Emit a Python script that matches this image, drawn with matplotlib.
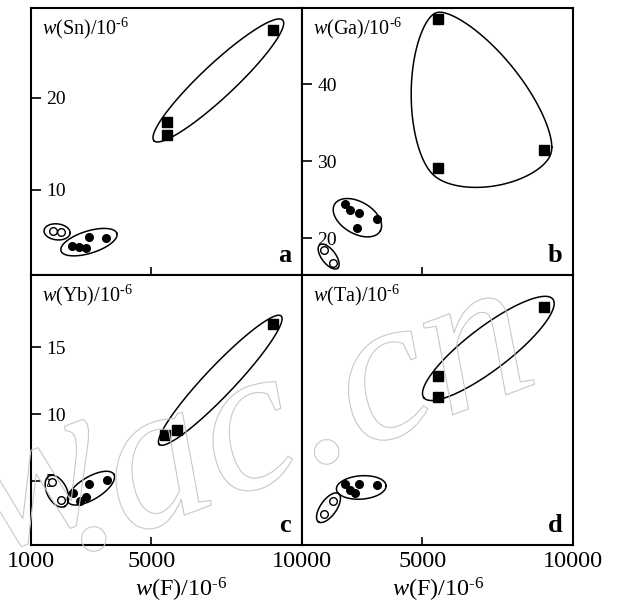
import numpy as np
import matplotlib
matplotlib.use("Agg")
import matplotlib.pyplot as plt
import matplotlib.patheffects as pe

plt.rcParams["font.family"] = "Liberation Serif"
plt.rcParams["mathtext.fontset"] = "custom"
plt.rcParams["mathtext.rm"] = "Liberation Serif"
plt.rcParams["mathtext.it"] = "Liberation Serif:italic"
plt.rcParams["axes.linewidth"] = 1.5

# ---- data (w(F) in 1e-6, element contents in 1e-6) ----
# group 1: squares, group 2: filled circles, group 3: open circles
sn_sq_F = [9030, 5530, 5530]
sn_sq = [27.4, 17.4, 16.0]
sn_fc_F = [2360, 2590, 2830, 2910, 3480]
sn_fc = [3.9, 3.75, 3.6, 4.85, 4.75]
sn_oc_F = [1730, 2000]
sn_oc = [5.45, 5.35]

ga_sq_F = [5530, 5530, 9040]
ga_sq = [48.5, 29.1, 31.4]
ga_fc_F = [2430, 2590, 2900, 2840, 3490]
ga_fc = [24.4, 23.6, 23.2, 21.3, 22.5]
ga_oc_F = [1730, 2040]
ga_oc = [18.4, 16.8]

yb_sq_F = [9050, 5450, 5840]
yb_sq = [16.75, 8.45, 8.8]
yb_fc_F = [2395, 2630, 2830, 2940, 3520]
yb_fc = [4.1, 3.5, 3.8, 4.75, 5.05]
yb_oc_F = [1710, 2010]
yb_oc = [4.9, 3.55]

ta_sq_F = [9040, 5530, 5530]
ta_sq = [44.0, 31.3, 27.4]
ta_fc_F = [2430, 2590, 2760, 2900, 3490]
ta_fc = [11.3, 10.2, 9.7, 11.25, 11.1]
ta_oc_F = [2040, 1720]
ta_oc = [8.15, 5.65]


def ring(ax, xs, ys, pa, pb):
    # ellipse around a group, built in pixel space
    P = ax.transData.transform(np.column_stack([xs, ys]))
    c = P.mean(0)
    _, _, vt = np.linalg.svd(P - c)
    d, e = vt[0], np.array([-vt[0][1], vt[0][0]])
    a = (P - c) @ d
    b = (P - c) @ e
    cen = c + d * (a.max() + a.min()) / 2 + e * (b.max() + b.min()) / 2
    A = (a.max() - a.min()) / 2 + pa
    B = (b.max() - b.min()) / 2 + pb
    t = np.linspace(0, 2 * np.pi, 300)
    pts = cen + np.outer(A * np.cos(t), d) + np.outer(B * np.sin(t), e)
    q = ax.transData.inverted().transform(pts)
    ax.plot(q[:, 0], q[:, 1], color="k", lw=1.1, zorder=2)


def blob(ax, xs, ys, r, T):
    # soft (rounded, bulging) hull around a group
    P = ax.transData.transform(np.column_stack([xs, ys]))
    th = np.linspace(0, 2 * np.pi, 500)
    U = np.column_stack([np.cos(th), np.sin(th)])
    Up = np.column_stack([-np.sin(th), np.cos(th)])
    proj = P @ U.T
    m = proj.max(0)
    w = np.exp((proj - m) / T)
    h = m + T * np.log(w.sum(0)) + r
    s = w / w.sum(0)
    dh = (s * (P @ Up.T)).sum(0)
    pts = h[:, None] * U + dh[:, None] * Up
    q = ax.transData.inverted().transform(pts)
    ax.plot(q[:, 0], q[:, 1], color="k", lw=1.1, zorder=2)


def points(ax, sqF, sq, fcF, fc, ocF, oc):
    ax.plot(sqF, sq, "s", color="k", ms=6.5, zorder=3)
    ax.plot(fcF, fc, "o", color="k", ms=5.5, zorder=3)
    ax.plot(ocF, oc, "o", mfc="white", mec="k", mew=1.0, ms=5.5, zorder=3)


fig = plt.figure(figsize=(6.19, 6.10), dpi=100)
W, H = 619, 610
x0, xm, x1 = 31, 302, 573
y0, ym, y1 = 8, 275, 545

ax_a = fig.add_axes([x0 / W, 1 - ym / H, (xm - x0) / W, (ym - y0) / H])
ax_b = fig.add_axes([xm / W, 1 - ym / H, (x1 - xm) / W, (ym - y0) / H])
ax_c = fig.add_axes([x0 / W, 1 - y1 / H, (xm - x0) / W, (y1 - ym) / H])
ax_d = fig.add_axes([xm / W, 1 - y1 / H, (x1 - xm) / W, (y1 - ym) / H])

panels = [
    (ax_a, "Sn", "a", (0.7, 29.8), [10, 20]),
    (ax_b, "Ga", "b", (15.2, 49.9), [20, 30, 40]),
    (ax_c, "Yb", "c", (0.2, 20.4), [5, 10, 15]),
    (ax_d, "Ta", "d", (0, 50), []),
]

unit = r"/10$^{\text{-}6}$"

for ax, el, letter, ylim, yt in panels:
    ax.set_xlim(1000, 10000)
    ax.set_ylim(*ylim)
    ax.set_yticks(yt)
    ax.tick_params(axis="y", direction="in", length=7, width=1.2, pad=-11,
                   labelsize=14)
    for lab in ax.get_yticklabels():
        lab.set_horizontalalignment("left")
    ax.tick_params(axis="x", direction="in", length=6, width=1.2,
                   labelsize=17.5, pad=4)
    ax.text(0.04, 0.925, r"$w$(" + el + ")" + unit, transform=ax.transAxes,
            fontsize=14.5, va="center", ha="left")
    ax.text(0.96, 0.03, letter, transform=ax.transAxes, fontsize=19,
            fontweight="bold", ha="right", va="bottom")

ax_a.set_xticks([5000])
ax_a.set_xticklabels([])
ax_b.set_xticks([5000])
ax_b.set_xticklabels([])
ax_c.set_xticks([1000, 5000, 10000])
ax_c.set_xticklabels(["1000", "5000", "10000"])
ax_d.set_xticks([5000, 10000])
ax_d.set_xticklabels(["5000", "10000"])

points(ax_a, sn_sq_F, sn_sq, sn_fc_F, sn_fc, sn_oc_F, sn_oc)
points(ax_b, ga_sq_F, ga_sq, ga_fc_F, ga_fc, ga_oc_F, ga_oc)
points(ax_c, yb_sq_F, yb_sq, yb_fc_F, yb_fc, yb_oc_F, yb_oc)
points(ax_d, ta_sq_F, ta_sq, ta_fc_F, ta_fc, ta_oc_F, ta_oc)

ring(ax_a, sn_sq_F, sn_sq, 14, 12)
ring(ax_a, sn_fc_F, sn_fc, 12, 6)
ring(ax_a, sn_oc_F, sn_oc, 9, 8)

blob(ax_b, ga_sq_F, ga_sq, 6, 30)
ring(ax_b, ga_fc_F, ga_fc, 9, 7)
ring(ax_b, ga_oc_F, ga_oc, 7, 7)

ring(ax_c, yb_sq_F, yb_sq, 11, 12)
ring(ax_c, yb_fc_F, yb_fc, 9, 6)
ring(ax_c, yb_oc_F, yb_oc, 7, 10)

ring(ax_d, ta_sq_F, ta_sq, 12, 13)
ring(ax_d, ta_fc_F, ta_fc, 9, 7)
ring(ax_d, ta_oc_F, ta_oc, 9, 8)

fig.text(181 / W, 1 - 590 / H, r"$w$(F)" + unit, fontsize=17.5,
         ha="center", va="center")
fig.text(438 / W, 1 - 590 / H, r"$w$(F)" + unit, fontsize=17.5,
         ha="center", va="center")

# faint watermark
wm = dict(fontsize=150, rotation=20.5, style="italic", rotation_mode="anchor",
          va="baseline", color="none", zorder=0,
          path_effects=[pe.withStroke(linewidth=0.8, foreground="#c8c8c8")])
fig.text(0.125, 0.09, ".ac.cn", ha="left", **wm)
fig.text(0.194, 0.168, "w", ha="right", **wm)

fig.savefig("out.png", dpi=100)
